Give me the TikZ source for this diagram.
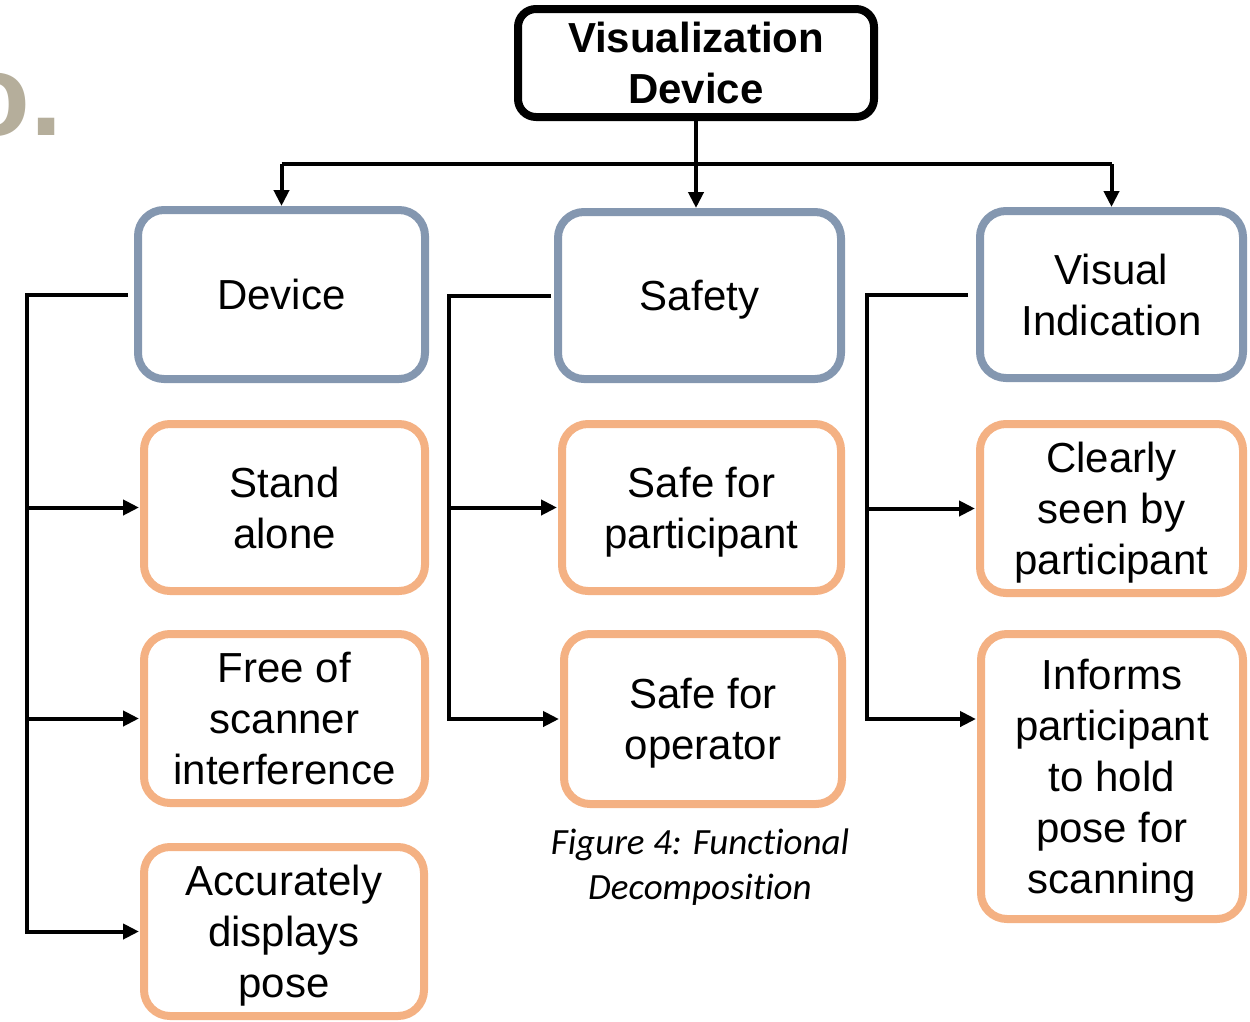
\documentclass[tikz,border=0pt]{standalone}
\usepackage{fontspec}
\setmainfont{Liberation Sans}
\newfontfamily\capfont[Ligatures=NoCommon]{Carlito}
\usetikzlibrary{arrows.meta}
\definecolor{boxblue}{HTML}{8497B0}
\definecolor{boxorange}{HTML}{F4B183}
\definecolor{headgray}{HTML}{B5AE9B}

\begin{document}
\begin{tikzpicture}[x=1pt,y=-1pt,
  box/.style={draw, line width=8pt, rounded corners=26pt, align=center,
    inner sep=0pt, text depth=0pt, text=black, font=\fontsize{42}{51}\selectfont},
  headbox/.style={box, draw=black, rounded corners=18pt,
    font=\fontsize{42}{51}\selectfont\bfseries},
  catbox/.style={box, draw=boxblue},
  fnbox/.style={box, draw=boxorange},
  conn/.style={line width=4pt},
  arr/.style={conn, -{Triangle[length=16pt,width=15pt]}},
  arrv/.style={arr},
  arrh/.style={arr, shorten >=1pt}]

\useasboundingbox (0,0) rectangle (1250,1021);

% cropped heading letters at the left edge
\begin{scope}
  \clip (0,0) rectangle (1250,1021);
  \node[anchor=base west, inner sep=0pt, text=headgray,
        font=\fontsize{116}{116}\selectfont\bfseries] (frag) at (-41,135) {o.};
\end{scope}

% root
\node[headbox, minimum width=356pt, minimum height=108pt] (top) at (696,63)
  {Visualization\\Device};

% categories
\node[catbox, minimum width=287pt, minimum height=169pt] (dev) at (281.5,294.5) {Device};
\node[catbox, minimum width=283pt, minimum height=167pt] (saf) at (699.5,295.5) {Safety};
\node[catbox, minimum width=263pt, minimum height=167pt] (vis) at (1111.5,294.5) {Visual\\Indication};

% functions
\node[fnbox, minimum width=281pt, minimum height=167pt] (sa)  at (284.5,507.5) {Stand\\alone};
\node[fnbox, minimum width=281pt, minimum height=169pt] (fr)  at (284.5,718.5) {Free of\\scanner\\interference};
\node[fnbox, minimum width=280pt, minimum height=169pt] (acc) at (284,931.5) {Accurately\\displays\\pose};
\node[fnbox, minimum width=279pt, minimum height=167pt] (sp)  at (701.5,507.5) {Safe for\\participant};
\node[fnbox, minimum width=278pt, minimum height=170pt] (so)  at (703,719) {Safe for\\operator};
\node[fnbox, minimum width=263pt, minimum height=169pt] (cl)  at (1111.5,508.5) {Clearly\\seen by\\participant};
\node[fnbox, minimum width=262pt, minimum height=285pt] (inf) at (1112,776.5)
  {Informs\\participant\\to hold\\pose for\\scanning};

% caption
\node[align=center, inner sep=0pt, text depth=0pt,
      font=\capfont\itshape\fontsize{37}{45}\selectfont] (cap)
  at (700,864) {Figure 4: Functional\\Decomposition};

% bus rails
\coordinate (busy) at (0,164);
\coordinate (lb) at (27,0);
\coordinate (mb) at (449,0);
\coordinate (rb) at (867,0);

% root to categories
\draw[conn] (dev.north |- busy) -- (vis.north |- busy);
\draw[arrv] (top.south) -- (top.south |- saf.north);
\draw[arrv] (dev.north |- busy) -- (dev.north);
\draw[arrv] (vis.north |- busy) -- (vis.north);

% Device branch
\draw[arrh] ([xshift=-6pt]dev.west) -| (lb |- acc.west) -- (acc.west);
\draw[arrh] (lb |- sa.west) -- (sa.west);
\draw[arrh] (lb |- fr.west) -- (fr.west);

% Safety branch
\draw[arrh] ([xshift=-3pt]saf.west) -| (mb |- so.west) -- (so.west);
\draw[arrh] (mb |- sp.west) -- (sp.west);

% Visual indication branch
\draw[arrh] ([xshift=-8pt]vis.west) -| (rb |- so.west) -- (inf.west |- so.west);
\draw[arrh] (rb |- cl.west) -- (cl.west);

\end{tikzpicture}
\end{document}
